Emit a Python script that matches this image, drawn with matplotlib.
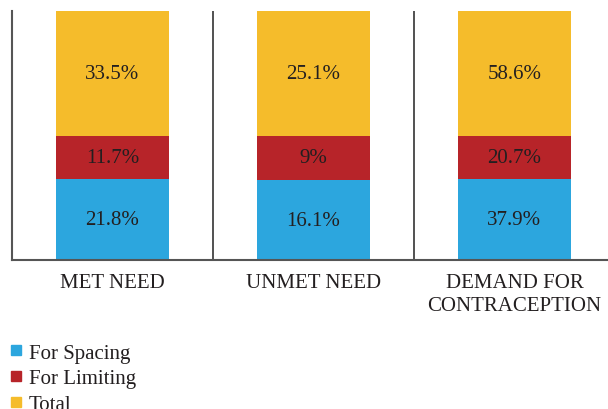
import matplotlib.pyplot as plt
import numpy as np
from matplotlib.lines import Line2D

plt.rcParams["font.family"] = ["Liberation Serif", "DejaVu Serif"]
plt.rcParams["text.color"] = "#231f20"

# data
categories = ["MET NEED", "UNMET NEED", "DEMAND FOR\nCONTRACEPTION"]
series_names = ["For Spacing", "For Limiting", "Total"]
spacing = [21.8, 16.1, 37.9]
limiting = [11.7, 9, 20.7]
total = [33.5, 25.1, 58.6]
colors = ["#2ca6de", "#b72429", "#f5bc2b"]

values = np.array([spacing, limiting, total])
shares = values / values.sum(axis=0)  # 100% stacked

fig = plt.figure(figsize=(6.08, 4.10), dpi=100)
ax = fig.add_axes([12 / 608, 149 / 410, 603 / 608, 249 / 410])

x = np.arange(len(categories))
bottom = np.zeros(len(categories))
for name, share, val, col in zip(series_names, shares, values, colors):
    ax.bar(x, share, bottom=bottom, width=0.56, color=col, label=name)
    for xi, b, s, v in zip(x, bottom, share, val):
        ax.text(xi, b + s / 2, f"{v:g}%", ha="center", va="center", fontsize=15)
    bottom += share

ax.set_xlim(-0.5, 2.5)
ax.set_ylim(0, 1)
for sep in [0.5, 1.5]:
    ax.axvline(sep, color="#333333", lw=1.2)

ax.spines[["top", "right"]].set_visible(False)
ax.spines["left"].set_color("#555555")
ax.spines["bottom"].set_color("#555555")
ax.spines["left"].set_linewidth(1.5)
ax.spines["bottom"].set_linewidth(1.5)
ax.set_yticks([])
ax.set_xticks(x)
ax.set_xticklabels(categories, fontsize=15, linespacing=1.3)
ax.tick_params(axis="x", length=0, pad=9, colors="#231f20")

handles = [Line2D([], [], marker="s", ls="", color=c, markersize=6.5) for c in colors]
fig.legend(handles, series_names, loc="upper left", bbox_to_anchor=(9 / 608, 1 - 344 / 410),
           frameon=False, fontsize=15, handlelength=0.7, handletextpad=0.25,
           labelspacing=0.3, borderpad=0, borderaxespad=0)

fig.savefig("out.png", dpi=100)
